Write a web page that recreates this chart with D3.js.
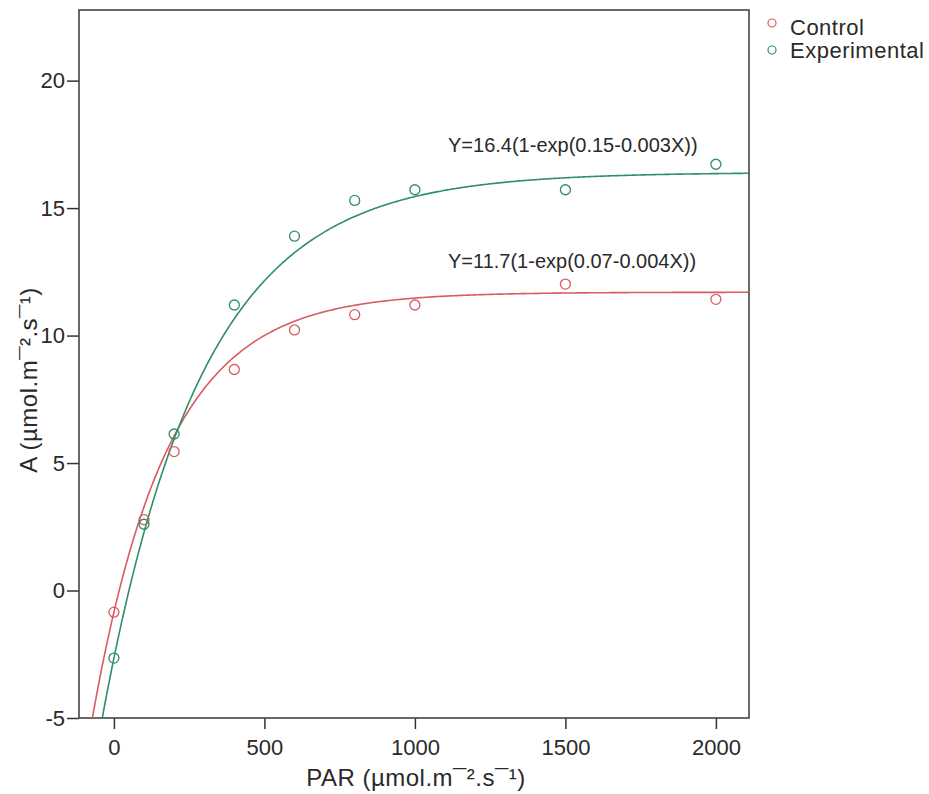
<!DOCTYPE html>
<html><head><meta charset="utf-8">
<script src="https://cdn.jsdelivr.net/npm/d3@7"></script>
<style>
body{margin:0;background:#fff;}
text{font-family:"Liberation Sans",Arial,sans-serif;fill:#2a2a2a;}
</style></head>
<body><svg id="c" width="929" height="794"></svg>
<script>
// Data
const parValues = [0, 100, 200, 400, 600, 800, 1000, 1500, 2000];
const controlA = [-0.85, 2.78, 5.45, 8.67, 10.22, 10.82, 11.2, 12.02, 11.42];
const experimentalA = [-2.65, 2.6, 6.14, 11.2, 13.9, 15.3, 15.72, 15.72, 16.72];
const seriesNames = ["Control", "Experimental"];
// fitted model Y = a(1-exp(b - c X))
const controlFit = [11.7, 0.07, 0.004];
const experimentalFit = [16.4, 0.15, 0.003];
const equationLabels = ["Y=16.4(1-exp(0.15-0.003X))", "Y=11.7(1-exp(0.07-0.004X))"];
const xTicks = [0, 500, 1000, 1500, 2000];
const yTicks = [-5, 0, 5, 10, 15, 20];
const xTitle = "PAR (µmol.m¯².s¯¹)";
const yTitle = "A (µmol.m¯².s¯¹)";
const colors = {Control: "#d85c60", Experimental: "#2f8f66"};

const svg = d3.select("#c");
const L = 79, R = 749, T = 10, B = 718;
const x = d3.scaleLinear().domain([-116, 2110]).range([L, R]);
const y = d3.scaleLinear().domain([-5, 22.77]).range([B, T]);

svg.append("defs").append("clipPath").attr("id", "clip")
  .append("rect").attr("x", L).attr("y", T).attr("width", R - L).attr("height", B - T);

// axes
const xa = svg.append("g").attr("transform", `translate(0,${B})`)
  .call(d3.axisBottom(x).tickValues(xTicks).tickSize(11).tickPadding(10).tickFormat(d => String(d)));
const ya = svg.append("g").attr("transform", `translate(${L},0)`)
  .call(d3.axisLeft(y).tickValues(yTicks).tickSize(12).tickPadding(2).tickFormat(d => String(d)));
[xa, ya].forEach(g => {
  g.select(".domain").remove();
  g.selectAll("line").attr("stroke", "#333").attr("stroke-width", 1.5);
  g.selectAll("text").style("font-size", "22px").attr("fill", "#333")
   .style("font-family", '"Liberation Sans",Arial,sans-serif');
});

// frame
svg.append("rect").attr("x", L).attr("y", T).attr("width", R - L).attr("height", B - T)
  .attr("fill", "none").attr("stroke", "#444").attr("stroke-width", 1.6);

// curves
const fitSeries = [["Control", controlFit], ["Experimental", experimentalFit]];
const xs = d3.range(-116, 2111, 4);
const line = d3.line().x(d => x(d[0])).y(d => y(d[1]));
const plot = svg.append("g").attr("clip-path", "url(#clip)");
fitSeries.forEach(([name, p]) => {
  const pts = xs.map(v => [v, p[0] * (1 - Math.exp(p[1] - p[2] * v))]);
  plot.append("path").datum(pts).attr("d", line)
    .attr("fill", "none").attr("stroke", colors[name]).attr("stroke-width", 1.6);
});

// points
[["Control", controlA], ["Experimental", experimentalA]].forEach(([name, vals]) => {
  plot.selectAll(null).data(vals).enter().append("circle")
    .attr("cx", (d, i) => x(parValues[i])).attr("cy", d => y(d)).attr("r", 5)
    .attr("fill", "none").attr("stroke", colors[name]).attr("stroke-width", 1.3);
});

// equations
svg.append("text").attr("x", 448).attr("y", 152).style("font-size", "20px").attr("fill", "#333").text(equationLabels[0]);
svg.append("text").attr("x", 448).attr("y", 268).style("font-size", "20px").attr("fill", "#333").text(equationLabels[1]);

// titles
svg.append("text").attr("x", 416).attr("y", 786).attr("text-anchor", "middle")
  .style("font-size", "24px").style("letter-spacing", "0.5px").attr("fill", "#333").text(xTitle);
svg.append("text").attr("transform", "translate(37,380) rotate(-90)").attr("text-anchor", "middle")
  .style("font-size", "24px").style("letter-spacing", "0.5px").attr("fill", "#333").text(yTitle);

// legend
const legY = [23, 50], legBase = [35, 58];
seriesNames.forEach((n, i) => {
  svg.append("circle").attr("cx", 772).attr("cy", legY[i]).attr("r", 4)
    .attr("fill", "none").attr("stroke", colors[n]).attr("stroke-width", 1.2);
  svg.append("text").attr("x", 790).attr("y", legBase[i]).style("font-size", "22px")
    .style("letter-spacing", "0.5px").attr("fill", "#333").text(n);
});
</script></body></html>
